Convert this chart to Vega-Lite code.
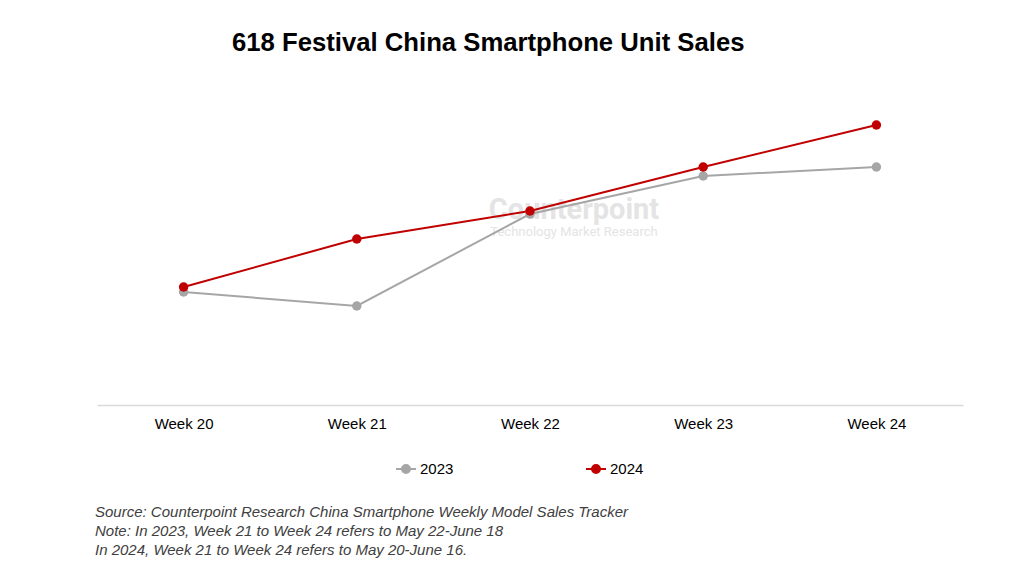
{
  "$schema": "https://vega.github.io/schema/vega-lite/v6.json",
  "padding": {"left": 95, "top": 30, "right": 61, "bottom": 5},
  "title": {"text": "618 Festival China Smartphone Unit Sales", "anchor": "start", "dx": 137, "fontSize": 25.7, "font": "Liberation Sans", "fontWeight": "bold", "color": "#000000", "offset": 48},
  "config": {"view": {"stroke": null}, "font": "Liberation Sans"},
  "spacing": 25,
  "resolve": {"legend": {"color": "independent"}},
  "vconcat": [
    {
      "width": 866,
      "height": 300,
      "data": {"values": [
        {"week": "Week 20", "year": "2023", "sales": 113},
        {"week": "Week 21", "year": "2023", "sales": 99},
        {"week": "Week 22", "year": "2023", "sales": 191},
        {"week": "Week 23", "year": "2023", "sales": 229},
        {"week": "Week 24", "year": "2023", "sales": 238},
        {"week": "Week 20", "year": "2024", "sales": 118},
        {"week": "Week 21", "year": "2024", "sales": 166},
        {"week": "Week 22", "year": "2024", "sales": 194},
        {"week": "Week 23", "year": "2024", "sales": 238},
        {"week": "Week 24", "year": "2024", "sales": 280}
      ]},
      "encoding": {
        "x": {"field": "week", "type": "nominal", "scale": {"domain": ["Week 20", "Week 21", "Week 22", "Week 23", "Week 24"]}, "axis": {"title": null, "labelAngle": 0, "ticks": false, "domainColor": "#d9d9d9", "domainWidth": 1.5, "labelFontSize": 15, "labelColor": "#000000", "labelPadding": 11, "grid": false}},
        "y": {"field": "sales", "type": "quantitative", "scale": {"domain": [0, 300]}, "axis": null}
      },
      "layer": [
        {
          "data": {"values": [{"wk": "Week 22", "v": 195, "t": "Counterpoint"}]},
          "mark": {"type": "text", "fontSize": 29, "fontWeight": "bold", "font": "Roboto", "color": "#e4e4e4", "dx": 44},
          "encoding": {"x": {"field": "wk", "type": "nominal"}, "y": {"field": "v", "type": "quantitative"}, "text": {"field": "t", "type": "nominal"}}
        },
        {
          "data": {"values": [{"wk": "Week 22", "v": 173, "t": "Technology Market Research"}]},
          "mark": {"type": "text", "fontSize": 13, "font": "Roboto", "color": "#e4e4e4", "dx": 44},
          "encoding": {"x": {"field": "wk", "type": "nominal"}, "y": {"field": "v", "type": "quantitative"}, "text": {"field": "t", "type": "nominal"}}
        },
        {
          "mark": {"type": "line", "strokeWidth": 2},
          "encoding": {
            "color": {"field": "year", "type": "nominal", "scale": {"domain": ["2023", "2024"], "range": ["#a6a6a6", "#c00000"]},
              "legend": {"title": null, "orient": "none", "legendX": 298, "legendY": 353, "direction": "horizontal", "labelFontSize": 15, "labelColor": "#000000", "columnPadding": 128, "symbolType": "M-1,0H1M-0.4,0A0.4,0.4,0,1,1,0.4,0A0.4,0.4,0,1,1,-0.4,0Z", "symbolSize": 400, "symbolStrokeWidth": 2, "labelOffset": 3}}
          }
        },
        {
          "mark": {"type": "point", "filled": true, "size": 90, "opacity": 1},
          "encoding": {
            "color": {"field": "year", "type": "nominal", "scale": {"domain": ["2023", "2024"], "range": ["#a6a6a6", "#c00000"]}}
          }
        }
      ]
    },
    {
      "width": 866,
      "height": 57,
      "data": {"values": [
        {"line": 1, "note": "Source: Counterpoint Research China Smartphone Weekly Model Sales Tracker"},
        {"line": 2, "note": "Note: In 2023, Week 21 to Week 24 refers to May 22-June 18"},
        {"line": 3, "note": "In 2024, Week 21 to Week 24 refers to May 20-June 16."}
      ]},
      "mark": {"type": "text", "align": "left", "fontSize": 15, "fontStyle": "italic", "color": "#404040", "dx": -2},
      "encoding": {
        "x": {"value": 0},
        "y": {"field": "line", "type": "ordinal", "axis": null},
        "text": {"field": "note"}
      }
    }
  ]
}
